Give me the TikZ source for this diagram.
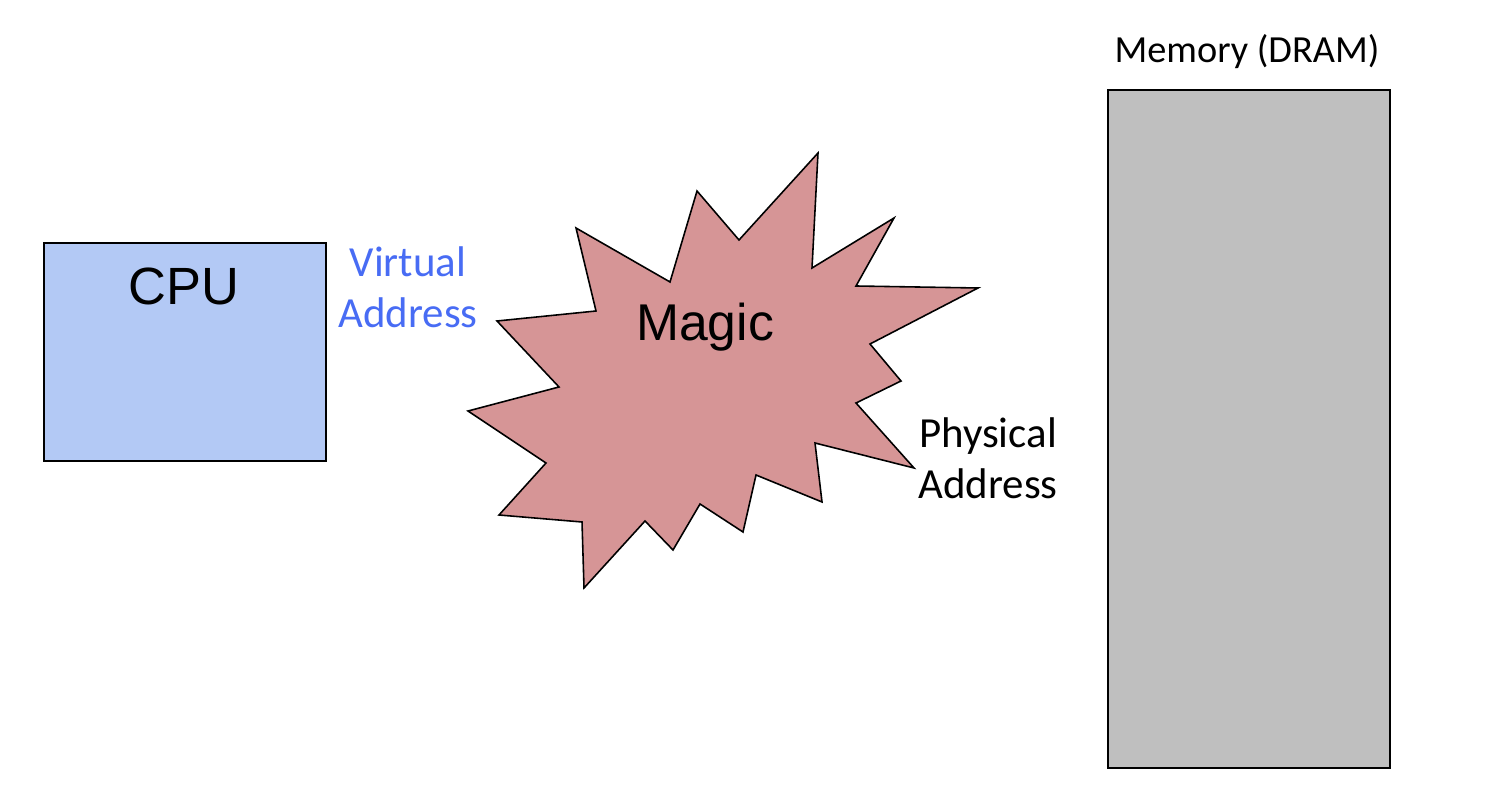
\documentclass[tikz,border=0pt]{standalone}
\usepackage{fontspec}
\newfontfamily\arialfont{Liberation Sans}
\newfontfamily\calibrifont{Carlito}
\usetikzlibrary{positioning}
\definecolor{cpublue}{RGB}{179,201,245}
\definecolor{magicred}{RGB}{214,149,150}
\definecolor{dramgray}{RGB}{191,191,191}
\definecolor{vaddrblue}{RGB}{72,108,244}
\tikzset{
    box/.style={draw=black, line width=0.45pt},
    label/.style={font=\calibrifont\fontsize{12.2}{14.5}\selectfont, align=center, inner sep=0pt}
}

\begin{document}
\begin{tikzpicture}[x=0.01cm, y=-0.01cm]
            \useasboundingbox (0,0) rectangle (1492,804);

            % cpu
            \draw[box, fill=cpublue] (44,243) rectangle (326,461);
            \node[inner sep=0pt, font=\arialfont\fontsize{14.9}{17}\selectfont] (cpu) at (184,286) {CPU};
            \node[label, text=vaddrblue] (vaddr) at (408,287) {Virtual\\Address};

            % the magic
            \draw[box, fill=magicred, line join=miter]
                (818,153) -- (812,268) -- (894,218) -- (856,286) -- (978,288)
                -- (870,344) -- (901,381) -- (856,403) -- (914,468) -- (815,443)
                -- (822,502) -- (756,475) -- (743,532) -- (700,504) -- (673,550)
                -- (645,521) -- (584,588) -- (582,522) -- (499,515) -- (546,463)
                -- (468,411) -- (559,387) -- (497,321) -- (596,311) -- (576,228)
                -- (670,282) -- (697,191) -- (739,240) -- cycle;
            \node[inner sep=0pt, font=\arialfont\fontsize{14.7}{17}\selectfont] (magic) at (705,327) {Magic};
            \node[label] (paddr) at (988,458) {Physical\\Address};

            % memory
            \draw[box, fill=dramgray] (1108,90) rectangle (1390,768);
            \node[inner sep=0pt, font=\calibrifont\fontsize{10.9}{13}\selectfont] (dram) at (1247,52) {Memory (DRAM)};
        \end{tikzpicture}
\end{document}
